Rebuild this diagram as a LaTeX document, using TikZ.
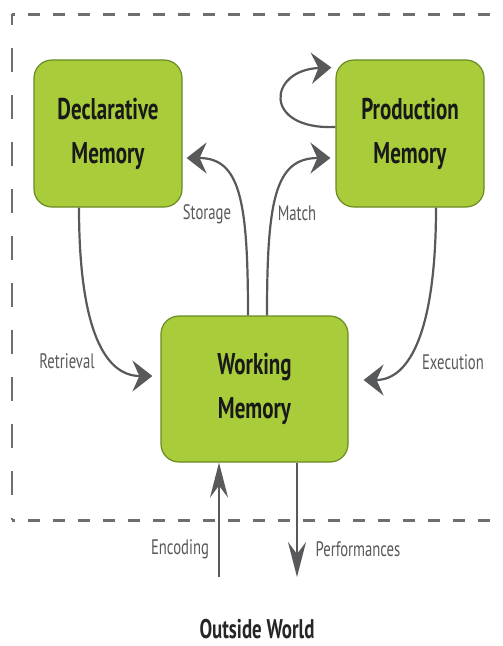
\documentclass[tikz,border=0pt]{standalone}
\usepackage{fontspec}
\setmainfont{PT Sans}[FakeStretch=0.7]
\usetikzlibrary{arrows.meta}
\definecolor{boxgreen}{HTML}{A9CD3A}
\definecolor{boxedge}{HTML}{6A8A22}
\definecolor{arrowgray}{HTML}{58595B}
\definecolor{dashgray}{HTML}{6D6E71}
\tikzset{
  membox/.style={draw=boxedge, line width=1.2pt, fill=boxgreen, rounded corners=18pt,
    minimum width=148pt, minimum height=147pt, align=center, inner sep=0pt,
    font=\fontsize{30}{44}\selectfont\bfseries, text=black!90},
  conn/.style={draw=arrowgray, line width=2.2pt, -{Stealth[length=20pt,width=31pt,inset=7pt]}},
  vconn/.style={draw=arrowgray, line width=2.2pt, -{Stealth[length=35pt,width=18pt,inset=12pt]}},
  lbl/.style={font=\fontsize{21}{24}\selectfont, text=arrowgray},
  hframe/.style={draw=dashgray, line width=3pt, dash pattern=on 12pt off 13pt},
  vframe/.style={draw=dashgray, line width=2.4pt, dash pattern=on 24pt off 23pt, dash phase=13pt}
}
\begin{document}
\begin{tikzpicture}[x=1pt,y=-1pt]
\useasboundingbox (0,0) rectangle (503,646);
\path[fill=white] (0,0) rectangle (503,646);
% dashed frame
\coordinate (ftl) at (12,14);
\coordinate (fbl) at (12,520);
\coordinate (ftr) at (515,14);
\coordinate (fbr) at (515,520);
\draw[vframe] (ftl) -- (fbl);
\draw[hframe, dash phase=9pt] (ftl) -- (ftr);
\draw[hframe, dash phase=9pt] (fbl) -- (fbr);
% boxes
\node[membox] (dm) at (108,133.5) {Declarative\\Memory};
\node[membox] (pm) at (410,133.5) {Production\\Memory};
\node[membox, minimum width=187pt, minimum height=146pt] (wm) at (254.5,389) {Working\\Memory};
% coordinates
\coordinate (stoS) at ([xshift=-6.5pt]wm.north);
\coordinate (stoE) at ([xshift=4pt,yshift=-24.5pt]dm.east);
\coordinate (matS) at ([xshift=12.5pt]wm.north);
\coordinate (matE) at ([xshift=-5pt,yshift=-24.5pt]pm.west);
\coordinate (retS) at ([xshift=-29pt]dm.south);
\coordinate (retE) at ([xshift=-8pt,yshift=13pt]wm.west);
\coordinate (exeS) at ([xshift=26pt]pm.south);
\coordinate (exeE) at ([xshift=15pt,yshift=9pt]wm.east);
\coordinate (loopS) at ([yshift=6.5pt]pm.west);
\coordinate (loopE) at ([xshift=-4pt,yshift=66pt]pm.west);
\coordinate (encS) at (219,577);
\coordinate (encE) at (wm.south -| encS);
\coordinate (perE) at (297,577);
\coordinate (perS) at (wm.south -| perE);
% connectors
\draw[conn] (stoS) .. controls (248,200) and (240,158) .. (stoE);
\draw[conn] (matS) .. controls (267,200) and (275,158) .. (matE);
\draw[conn] (retS) .. controls (79,330) and (105,376) .. (retE);
\draw[conn] (exeS) .. controls (436,330) and (410,380) .. (exeE);
\draw[conn] (loopS) .. controls (262,130) and (268,70) .. (loopE);
\draw[vconn] (encS) -- (encE);
\draw[vconn] (perS) -- (perE);
% labels
\node[lbl] (lsto) at (207,214) {Storage};
\node[lbl] (lmat) at (297,213) {Match};
\node[lbl] (lret) at (67,361) {Retrieval};
\node[lbl] (lexe) at (453,362) {Execution};
\node[lbl] (lenc) at (180,549) {Encoding};
\node[lbl] (lper) at (358,549) {Performances};
\node[font=\fontsize{27}{30}\selectfont\bfseries, text=black!85, inner sep=0pt] (ow) at (257,629) {Outside World};
\end{tikzpicture}
\end{document}
